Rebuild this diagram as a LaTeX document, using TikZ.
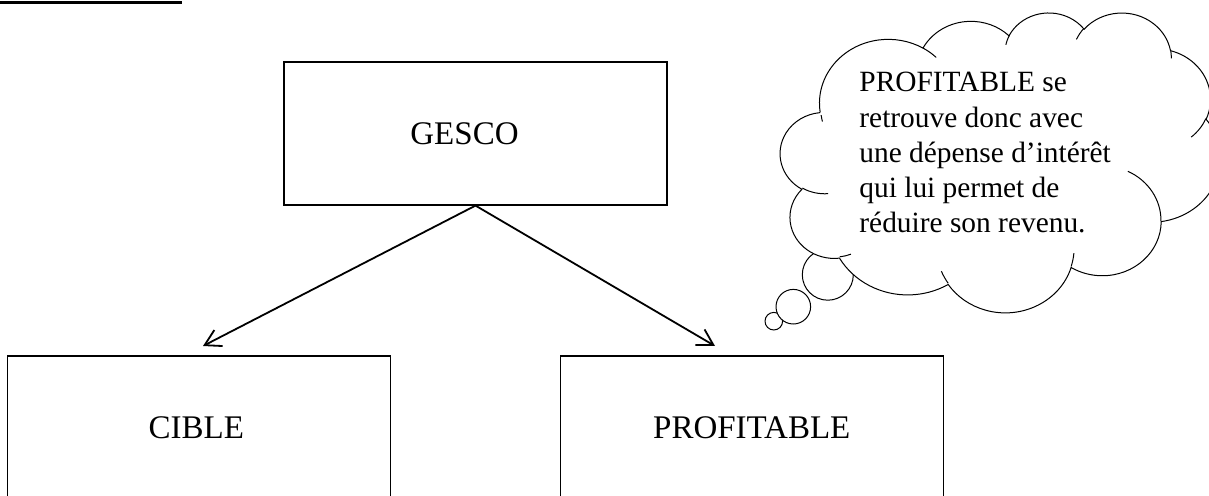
\documentclass[tikz,border=0pt]{standalone}
\usepackage{fontspec}
\setmainfont{Liberation Serif}
\usetikzlibrary{trees,arrows.meta}

% one bump of the cloud, angles as seen on the ellipse
\newcommand\cloudarc[4]{arc[x radius=#1,y radius=#2,
  start angle={atan2(#1*sin(#3),#2*cos(#3))},
  delta angle={mod(atan2(#1*sin(#3+#4),#2*cos(#3+#4))-atan2(#1*sin(#3),#2*cos(#3))+720,360)}]}

\begin{document}
\begin{tikzpicture}[x=0.5pt,y=-0.5pt,>={Straight Barb[angle=60:9pt]},
  box/.style={draw,line width=0.6pt,minimum width=191.5pt,minimum height=71.5pt,
    font=\fontsize{16.5}{19}\selectfont},
  cloudline/.style={draw,line width=0.5pt,fill=white},
  edge from parent/.style={draw=none},
  level distance=147pt,sibling distance=276.25pt]
\useasboundingbox (0,0) rectangle (1209,496);
\clip (0,0) rectangle (1209,496);

\draw[line width=1.5pt] (0,3) -- (182,3);

\node[box] (G) at (475.5,133.5) {GESCO\hspace*{11pt}}
  child {node[box] (C) {CIBLE\hspace*{3pt}}}%branch 1
  child {node[box] (P) {PROFITABLE}};

\coordinate (C1) at (203,346);
\coordinate (P1) at (715,346);
\draw[->,line width=0.9pt] (G.south) -- (C1);
\draw[->,line width=0.9pt] (G.south) -- (P1);

%bubbles of the callout
\foreach \x/\y/\r in {773.8/321.2/8.8,793.3/306.7/17.3,827.8/274.7/25.5}
  \draw[cloudline] (\x,\y) circle[radius=\r];

\begin{scope}[shift={(780.4,12)},xscale=0.1018,yscale=0.0694]
\draw[cloudline] (390,1437)
  \cloudarc{675.3}{919.0}{-190.4875}{123.7805}
  \cloudarc{533.3}{726.7}{-144.1024}{89.9452}
  \cloudarc{436.5}{594.5}{-145.8079}{99.7230}
  \cloudarc{485.7}{659.5}{-130.9861}{117.2417}
  \cloudarc{533.3}{727.3}{-78.7089}{109.0269}
  \cloudarc{677.5}{922.0}{-46.2673}{130.2690}
  \cloudarc{578.5}{786.7}{0.6250}{114.0333}
  \cloudarc{675.2}{921.5}{22.4516}{115.1726}
  \cloudarc{772.0}{1054.3}{66.2426}{75.7110}
  \cloudarc{436.0}{591.8}{-274.9421}{146.7356}
  \cloudarc{434.5}{594.5}{-246.8285}{152.5189}
  -- cycle;
%inner strokes
\draw[line width=0.5pt]
  (469.3,2617.7) \cloudarc{434.5}{594.5}{86.742}{26.4295}
  (692.8,3489.9) \cloudarc{436.0}{591.8}{73.6105}{11.4475}
  (1647.8,3909.0) \cloudarc{675.2}{921.5}{137.6242}{14.0811}
  (2882.7,3475.1) \cloudarc{675.2}{921.5}{6.4533}{15.9984}
  (3412.9,2295.4) \cloudarc{578.5}{786.7}{-70.2924}{70.9174}
  (4179.8,1535.4) \cloudarc{533.3}{727.3}{30.3180}{27.7515}
  (3832.4,542.6) \cloudarc{485.7}{659.5}{-13.7443}{14.8589}
  (2907.8,395.2) \cloudarc{485.7}{659.5}{-149.1815}{18.1954}
  (2214.1,472.0) \cloudarc{436.5}{594.5}{-163.4943}{17.6864}
  (1400.0,519.2) \cloudarc{675.3}{919.0}{-66.7070}{12.3194}
  (412.7,1578.9) \cloudarc{675.3}{919.0}{162.0348}{7.8528};
\end{scope}

\node[anchor=north west,inner sep=0,align=left,font=\fontsize{14.7}{17.6}\selectfont] (T)
  at (859,72) {PROFITABLE se\\retrouve donc avec\\une dépense d’intérêt\\qui lui permet de\\réduire son revenu.};
\end{tikzpicture}
\end{document}
